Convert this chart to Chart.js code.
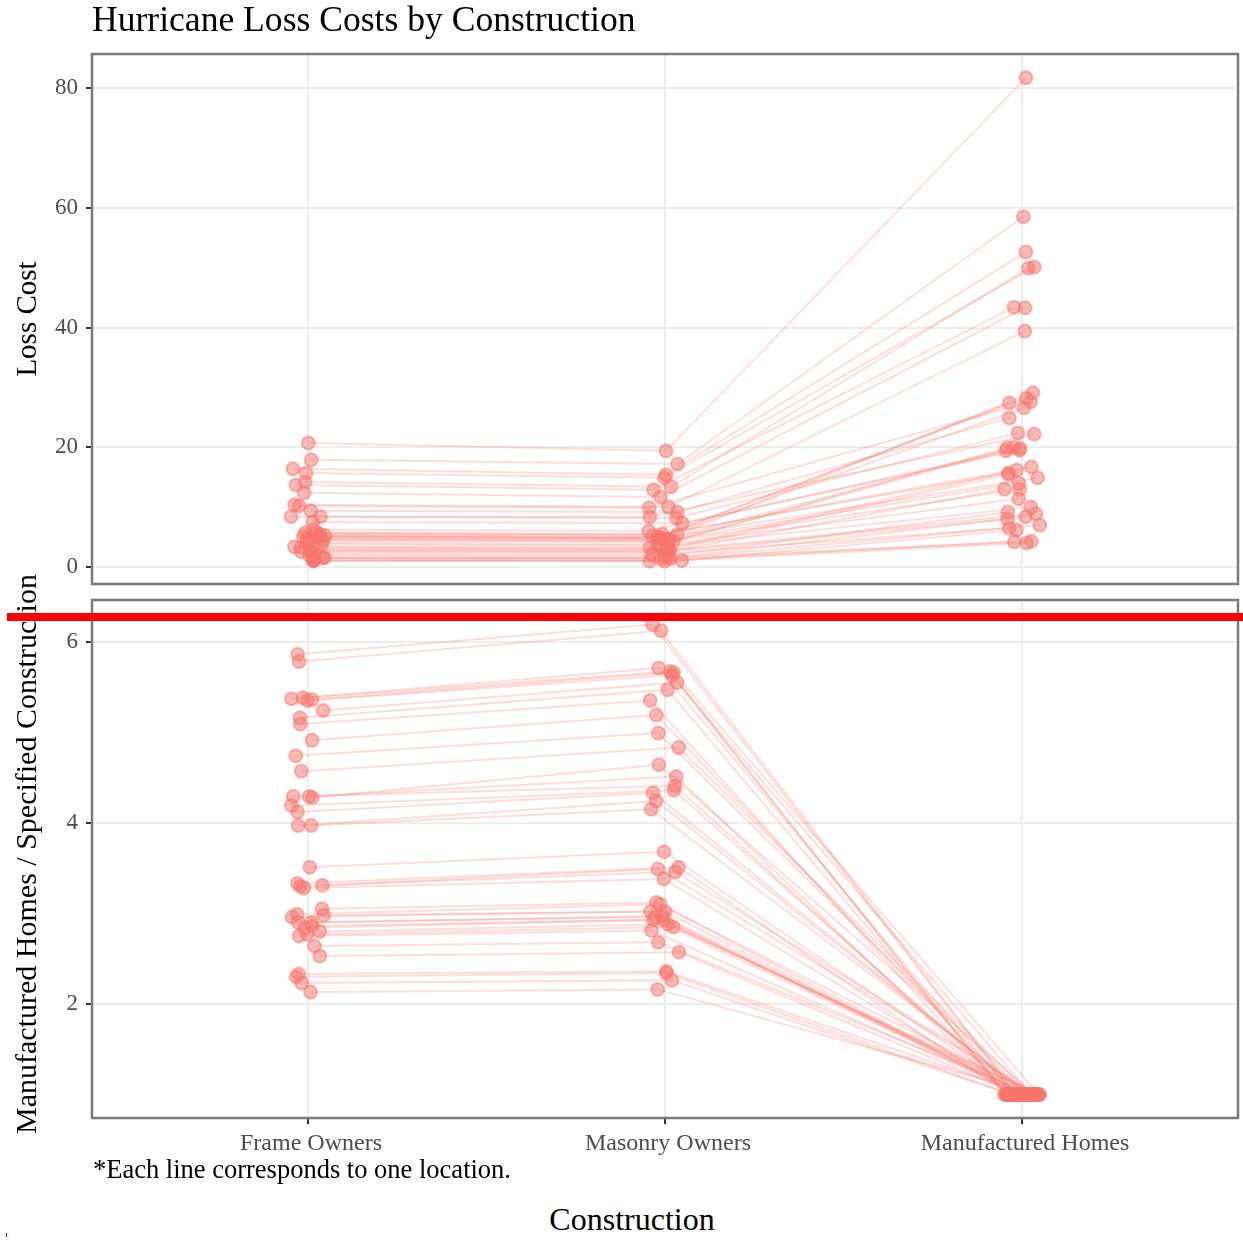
<!DOCTYPE html>
<html>
<head>
<meta charset="utf-8">
<title>Hurricane Loss Costs by Construction</title>
<script src="https://cdn.jsdelivr.net/npm/chart.js@4.4.1/dist/chart.umd.min.js"></script>
<style>
  html, body { margin: 0; padding: 0; background: #ffffff; }
  #page { position: relative; width: 1243px; height: 1247px; overflow: hidden;
          font-family: "Liberation Serif", "DejaVu Serif", serif; background: #ffffff; }
  canvas { position: absolute; left: 0; }
  .txt { position: absolute; white-space: nowrap; line-height: 1; color: #000; z-index: 5; }
  #title { left: 92px; top: 2px; font-size: 35.6px; }
  #yTitleTop { left: 26px; top: 319px; font-size: 29px; transform: translate(-50%, -50%) rotate(-90deg); }
  #yTitleBottom { left: 26px; top: 854px; font-size: 30px; transform: translate(-50%, -50%) rotate(-90deg); }
  #caption { left: 93px; top: 1156px; font-size: 26.5px; }
  #xTitle { left: 632px; top: 1203px; font-size: 32px; transform: translateX(-50%); }
  #marker { position: absolute; left: 7px; top: 613px; width: 1236px; height: 8px; background: #ff0000; z-index: 10; }
  #tick { position: absolute; left: 6px; top: 1233px; width: 1px; height: 4px; background: #d40000; z-index: 10; }
</style>
</head>
<body>
<div id="page">
  <canvas id="lossChart" width="1243" height="592" style="top:0px"></canvas>
  <canvas id="ratioChart" width="1243" height="576" style="top:592px"></canvas>
  <div class="txt" id="title">Hurricane Loss Costs by Construction</div>
  <div class="txt" id="yTitleTop">Loss Cost</div>
  <div class="txt" id="yTitleBottom">Manufactured Homes / Specified Construction</div>
  <div class="txt" id="caption">*Each line corresponds to one location.</div>
  <div class="txt" id="xTitle">Construction</div>
  <div id="marker"></div>
  <div id="tick"></div>
</div>
<script>
const categories = ['Frame Owners', 'Masonry Owners', 'Manufactured Homes'];
const lossTicks = [0, 20, 40, 60, 80];
const ratioTicks = [2, 4, 6];

// Hurricane loss cost per location, one entry per location in each array
const frameLoss = [20.7, 17.9, 16.4, 15.7, 14.2, 13.7, 12.4, 10.4, 5.7, 5.3, 10.2, 5.2, 5.0, 9.4,
                   8.4, 8.4, 4.8, 4.5, 6.2, 7.5, 4.0, 5.7, 3.3, 5.5, 3.0, 5.1, 4.7, 4.4, 2.6,
                   3.8, 3.4, 1.9, 2.9, 1.6, 2.6, 1.5, 2.2, 1.2, 1.5, 1.0, 1.1];
const masonryLoss = [19.4, 17.2, 15.4, 14.9, 13.4, 12.9, 11.7, 10.0, 5.4, 5.0, 9.9, 4.9, 4.8, 9.2,
                     8.2, 8.4, 4.6, 4.3, 6.0, 7.3, 3.8, 5.5, 3.1, 5.2, 2.9, 4.8, 4.5, 4.2, 2.5,
                     3.6, 3.2, 1.8, 2.8, 1.5, 2.5, 1.4, 2.1, 1.1, 1.4, 1.0, 1.0];
const manufacturedLoss = [81.7, 58.5, 52.6, 50.1, 49.9, 43.4, 43.3, 39.4, 29.1, 28.2, 27.6, 27.4, 26.6, 24.9,
                          22.4, 22.2, 20.0, 19.9, 19.8, 19.5, 19.4, 16.7, 16.2, 15.7, 15.5, 14.9, 14.0, 13.0, 13.0,
                          11.4, 10.0, 9.2, 8.9, 8.4, 8.0, 7.0, 6.5, 6.2, 4.3, 4.2, 4.0];

// Manufactured-home loss cost divided by the loss cost of each construction
const frameRatio = [5.86, 5.78, 5.38, 5.37, 5.36, 5.35, 5.24, 5.16, 5.09, 4.91, 4.74, 4.57, 4.28, 4.29,
                    4.29, 4.19, 4.12, 3.97, 3.97, 3.51, 3.33, 3.31, 3.30, 3.28, 3.05, 2.99, 2.98, 2.96,
                    2.90, 2.90, 2.86, 2.84, 2.80, 2.77, 2.75, 2.64, 2.53, 2.33, 2.30, 2.23, 2.13];
const masonryRatio = [6.19, 6.12, 5.71, 5.67, 5.66, 5.63, 5.55, 5.47, 5.35, 5.19, 4.99, 4.83, 4.64, 4.51,
                      4.41, 4.36, 4.33, 4.24, 4.15, 3.68, 3.51, 3.49, 3.46, 3.38, 3.12, 3.10, 3.02, 3.02,
                      2.97, 2.96, 2.93, 2.93, 2.88, 2.85, 2.81, 2.68, 2.57, 2.36, 2.34, 2.26, 2.16];
const manufacturedRatio = [1, 1, 1, 1, 1, 1, 1, 1, 1, 1, 1, 1, 1, 1, 1, 1, 1, 1, 1, 1, 1,
                           1, 1, 1, 1, 1, 1, 1, 1, 1, 1, 1, 1, 1, 1, 1, 1, 1, 1, 1, 1];

const POINT_FILL = 'rgba(248,118,109,0.5)';
const POINT_EDGE = 'rgba(248,118,109,0.5)';
const LINE_COLOR = 'rgba(248,118,109,0.25)';
const GRID = '#ededed';
const TICK_MARK = '#333333';
const TICK_TEXT = '#4d4d4d';
const FONT = '"Liberation Serif", "DejaVu Serif", serif';
const JITTER = 0.05;

// small seeded generator so the horizontal jitter is the same on every load
function seeded(a) {
  return function () {
    a |= 0; a = a + 0x6D2B79F5 | 0;
    let t = Math.imul(a ^ a >>> 15, 1 | a);
    t = t + Math.imul(t ^ t >>> 7, 61 | t) ^ t;
    return ((t ^ t >>> 14) >>> 0) / 4294967296;
  };
}

// one connecting line per location plus a single layer of points on top
function buildDatasets(columns, seed) {
  const rnd = seeded(seed);
  const n = columns[0].length;
  const lines = [];
  const points = [];
  for (let i = 0; i < n; i++) {
    const row = columns.map((col, c) => ({ x: c + (rnd() * 2 - 1) * JITTER, y: col[i] }));
    lines.push({ data: row, showLine: true, borderColor: LINE_COLOR, borderWidth: 2,
                 pointRadius: 0, pointHoverRadius: 0, order: 1 });
    points.push(...row);
  }
  return [{ data: points, showLine: false, pointRadius: 6.5, pointHoverRadius: 6.5,
            backgroundColor: POINT_FILL, borderColor: POINT_EDGE, borderWidth: 2, order: 0 }, ...lines];
}

const panelBorder = {
  id: 'panelBorder',
  afterDraw(chart) {
    const { ctx, chartArea: a } = chart;
    ctx.save();
    ctx.strokeStyle = '#7a7a7a';
    ctx.lineWidth = 2.5;
    ctx.strokeRect(a.left, a.top, a.right - a.left, a.bottom - a.top);
    ctx.restore();
  }
};

function xScale(showLabels) {
  return {
    type: 'linear', min: -0.605, max: 2.605,
    afterBuildTicks: s => { s.ticks = categories.map((_, i) => ({ value: i })); },
    afterFit: s => { s.height = showLabels ? 50 : 0; s.paddingLeft = 0; s.paddingRight = 0; },
    ticks: { display: showLabels, color: TICK_TEXT, padding: 5, labelOffset: 3,
             font: { family: FONT, size: 24 },
             callback: v => categories[v] },
    grid: { color: GRID, lineWidth: 2, drawTicks: showLabels, tickLength: 6,
            tickColor: TICK_MARK, tickWidth: 2 },
    border: { display: false }
  };
}

function yScale(min, max, ticks) {
  return {
    type: 'linear', min: min, max: max,
    afterBuildTicks: s => { s.ticks = ticks.map(v => ({ value: v })); },
    afterFit: s => { s.width = 92; s.paddingTop = 0; s.paddingBottom = 0; },
    ticks: { color: TICK_TEXT, padding: 8, font: { family: FONT, size: 23 } },
    grid: { color: GRID, lineWidth: 2, tickLength: 6, tickColor: TICK_MARK, tickWidth: 2 },
    border: { display: false }
  };
}

function baseOptions(padding, showLabels, min, max, ticks) {
  return {
    responsive: false, animation: false, devicePixelRatio: 1,
    layout: { padding: padding, autoPadding: false },
    plugins: { legend: { display: false }, tooltip: { enabled: false } },
    events: [],
    scales: { x: xScale(showLabels), y: yScale(min, max, ticks) }
  };
}

new Chart(document.getElementById('lossChart'), {
  type: 'scatter',
  data: { datasets: buildDatasets([frameLoss, masonryLoss, manufacturedLoss], 11) },
  options: baseOptions({ top: 54, left: 0, right: 5, bottom: 8 }, false, -2.84, 85.68, lossTicks),
  plugins: [panelBorder]
});

new Chart(document.getElementById('ratioChart'), {
  type: 'scatter',
  data: { datasets: buildDatasets([frameRatio, masonryRatio, manufacturedRatio], 29) },
  options: baseOptions({ top: 8, left: 0, right: 5, bottom: 0 }, true, 0.74, 6.46, ratioTicks),
  plugins: [panelBorder]
});
</script>
</body>
</html>
